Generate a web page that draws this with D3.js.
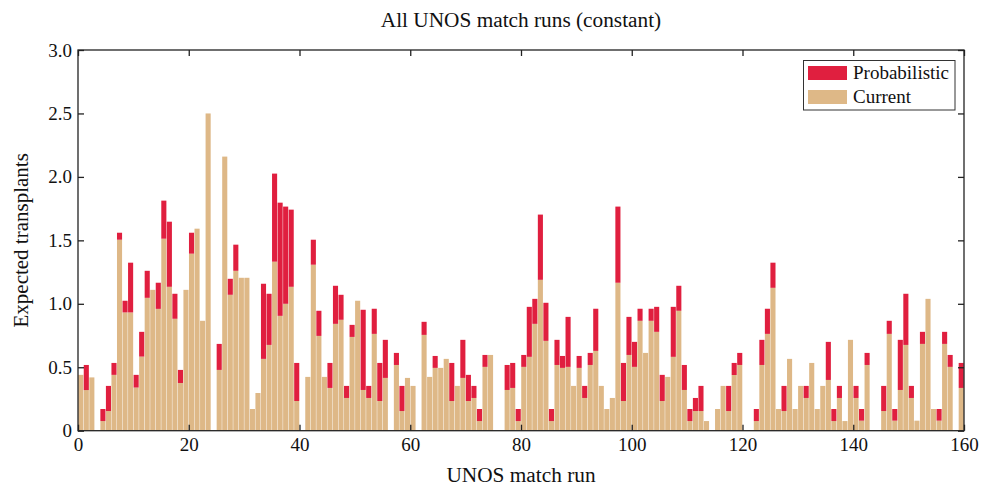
<!DOCTYPE html>
<html>
<head>
<meta charset="utf-8">
<script src="https://cdn.jsdelivr.net/npm/d3@7"></script>
<style>
  html, body { margin: 0; padding: 0; background: #fff; }
  svg text { font-family: "Liberation Serif", "Times New Roman", serif; fill: #111; }
</style>
</head>
<body>
<svg id="chart" width="981" height="485"></svg>
<script>
// ---- data ----
const runs = d3.range(160); // match-run index 0..159
const current = [
  0.44,0.32,0.42,0,0.076,0.155,0.44,1.505,0.932,0.932,
  0.34,0.584,1.047,1.11,0.96,1.513,1.134,0.882,0.376,1.11,
  1.395,1.592,0.866,2.5,0,0.479,2.16,1.071,1.26,1.205,
  1.205,0.171,0.297,0.566,0.676,1.332,0.905,1.0,1.134,0.234,
  0,0.424,1.308,0.747,0.424,0.337,0.842,0.874,0.258,0.739,
  1.024,0.321,0.258,0.763,0.234,0.416,0,0.518,0.155,0.416,
  0.353,0,0.755,0.424,0.495,0.495,0.566,0.234,0.353,0.416,
  0.234,0.258,0.076,0.503,0.597,0,0,0.321,0.337,0.076,
  0.503,0.582,0.842,1.189,0.708,0.076,0.518,0.495,0.503,0.353,
  0.495,0.258,0.518,0.629,0.353,0.171,0.258,1.166,0.234,0.597,
  0.503,0.866,0.613,0.866,0.779,0.234,0.424,0.582,0.945,0.321,
  0.076,0.155,0.155,0.076,0,0.171,0.353,0.155,0.439,0.518,
  0,0,0.076,0.518,0.763,1.126,0.171,0.155,0.566,0.171,
  0.353,0.258,0.534,0.171,0.353,0.4,0.076,0.258,0.076,0.716,
  0.258,0.079,0.518,0,0,0.155,0.763,0.079,0.321,0.676,
  0.258,0.079,0.684,1.039,0.171,0.079,0.684,0.503,0,0.337
];
const probabilistic = [
  0.44,0.518,0.42,0,0.171,0.353,0.534,1.56,1.024,1.324,
  0.44,0.779,1.26,1.11,1.166,1.813,1.647,1.079,0.479,1.11,
  1.56,1.592,0.866,2.5,0,0.684,2.16,1.197,1.466,1.205,
  1.205,0.171,0.297,1.158,1.079,2.026,1.797,1.766,1.742,0.534,
  0,0.424,1.505,0.945,0.424,0.534,1.142,1.071,0.353,0.834,
  1.024,0.953,0.353,0.961,0.534,0.716,0,0.613,0.353,0.416,
  0.353,0,0.858,0.424,0.589,0.495,0.566,0.534,0.353,0.716,
  0.44,0.353,0.171,0.597,0.597,0,0,0.518,0.534,0.171,
  0.597,0.976,1.039,1.703,1.008,0.171,0.716,0.589,0.897,0.353,
  0.589,0.353,0.613,0.961,0.353,0.171,0.258,1.766,0.534,0.897,
  0.7,0.961,0.613,0.961,0.976,0.44,0.424,0.976,1.142,0.518,
  0.171,0.258,0.353,0.076,0,0.171,0.353,0.353,0.534,0.613,
  0,0,0.171,0.716,0.961,1.324,0.171,0.353,0.566,0.171,
  0.353,0.353,0.534,0.171,0.353,0.7,0.171,0.353,0.076,0.716,
  0.353,0.171,0.613,0,0,0.353,0.866,0.171,0.716,1.079,
  0.353,0.079,0.779,1.039,0.171,0.171,0.779,0.597,0,0.534
];
const xTicks = [0,20,40,60,80,100,120,140,160];
const yTicks = [0,0.5,1.0,1.5,2.0,2.5,3.0];
const seriesNames = ["Probabilistic","Current"];
const colors = {Probabilistic: "#E01F3F", Current: "#DEB887"};

// ---- layout ----
const svg = d3.select("#chart");
const L = 78, R = 964, T = 50, B = 430.7;
const x = d3.scaleLinear().domain([0,160]).range([L,R]);
const y = d3.scaleLinear().domain([0,3]).range([B,T]);
const bw = 0.92;

const plot = svg.append("g");
plot.append("defs").append("clipPath").attr("id","clip")
  .append("rect").attr("x",L).attr("y",T).attr("width",R-L).attr("height",B-T);

const bars = plot.append("g").attr("clip-path","url(#clip)");
// current (bottom) segment
bars.selectAll("rect.cur").data(runs.filter(i => current[i] > 0)).join("rect")
  .attr("class","cur")
  .attr("x", i => x(i + (1-bw)/2))
  .attr("width", i => x(i+bw) - x(i))
  .attr("y", i => y(current[i]))
  .attr("height", i => y(0) - y(current[i]))
  .attr("fill", colors.Current);
// probabilistic excess stacked on top
bars.selectAll("rect.prob").data(runs.filter(i => probabilistic[i] > current[i])).join("rect")
  .attr("class","prob")
  .attr("x", i => x(i + (1-bw)/2))
  .attr("width", i => x(i+bw) - x(i))
  .attr("y", i => y(probabilistic[i]))
  .attr("height", i => y(current[i]) - y(probabilistic[i]))
  .attr("fill", colors.Probabilistic);

// ---- axes ----
const tickLen = 6;
const fmtY = d => d === 0 ? "0" : d3.format(".1f")(d);
const gx = svg.append("g").attr("transform",`translate(0,${B})`)
  .call(d3.axisBottom(x).tickValues(xTicks).tickSizeInner(-tickLen).tickSizeOuter(0).tickPadding(7));
const gxTop = svg.append("g").attr("transform",`translate(0,${T})`)
  .call(d3.axisTop(x).tickValues(xTicks).tickSizeInner(-tickLen).tickSizeOuter(0).tickFormat(""));
const gy = svg.append("g").attr("transform",`translate(${L},0)`)
  .call(d3.axisLeft(y).tickValues(yTicks).tickSizeInner(-tickLen).tickSizeOuter(0).tickPadding(6).tickFormat(fmtY));
const gyR = svg.append("g").attr("transform",`translate(${R},0)`)
  .call(d3.axisRight(y).tickValues(yTicks).tickSizeInner(-tickLen).tickSizeOuter(0).tickFormat(""));
[gx,gxTop,gy,gyR].forEach(g => {
  g.select(".domain").remove();
  g.selectAll(".tick line").attr("stroke","#222").attr("stroke-width",1.3);
  g.selectAll(".tick text").attr("font-size",19).attr("font-family","Liberation Serif").attr("fill","#111");
});
svg.append("rect").attr("x",L).attr("y",T).attr("width",R-L).attr("height",B-T)
  .attr("fill","none").attr("stroke","#222").attr("stroke-width",1.3);

// ---- labels ----
svg.append("text").attr("x",(L+R)/2).attr("y",26.5).attr("text-anchor","middle")
  .attr("font-size",21.3).text("All UNOS match runs (constant)");
svg.append("text").attr("x",(L+R)/2).attr("y",481.5).attr("text-anchor","middle")
  .attr("font-size",21.3).text("UNOS match run");
svg.append("text").attr("transform",`translate(28,${(T+B)/2}) rotate(-90)`).attr("text-anchor","middle")
  .attr("font-size",21).text("Expected transplants");

// ---- legend ----
const lg = svg.append("g");
lg.append("rect").attr("x",803.5).attr("y",60.5).attr("width",151.5).attr("height",49.5)
  .attr("fill","#fff").attr("stroke","#333").attr("stroke-width",1);
seriesNames.forEach((name, k) => {
  const yy = 66 + k*24;
  lg.append("rect").attr("x",808).attr("y",yy).attr("width",39).attr("height",14).attr("fill",colors[name]);
  lg.append("text").attr("x",853).attr("y",yy+12.5).attr("font-size",19).text(name);
});
</script>
</body>
</html>
